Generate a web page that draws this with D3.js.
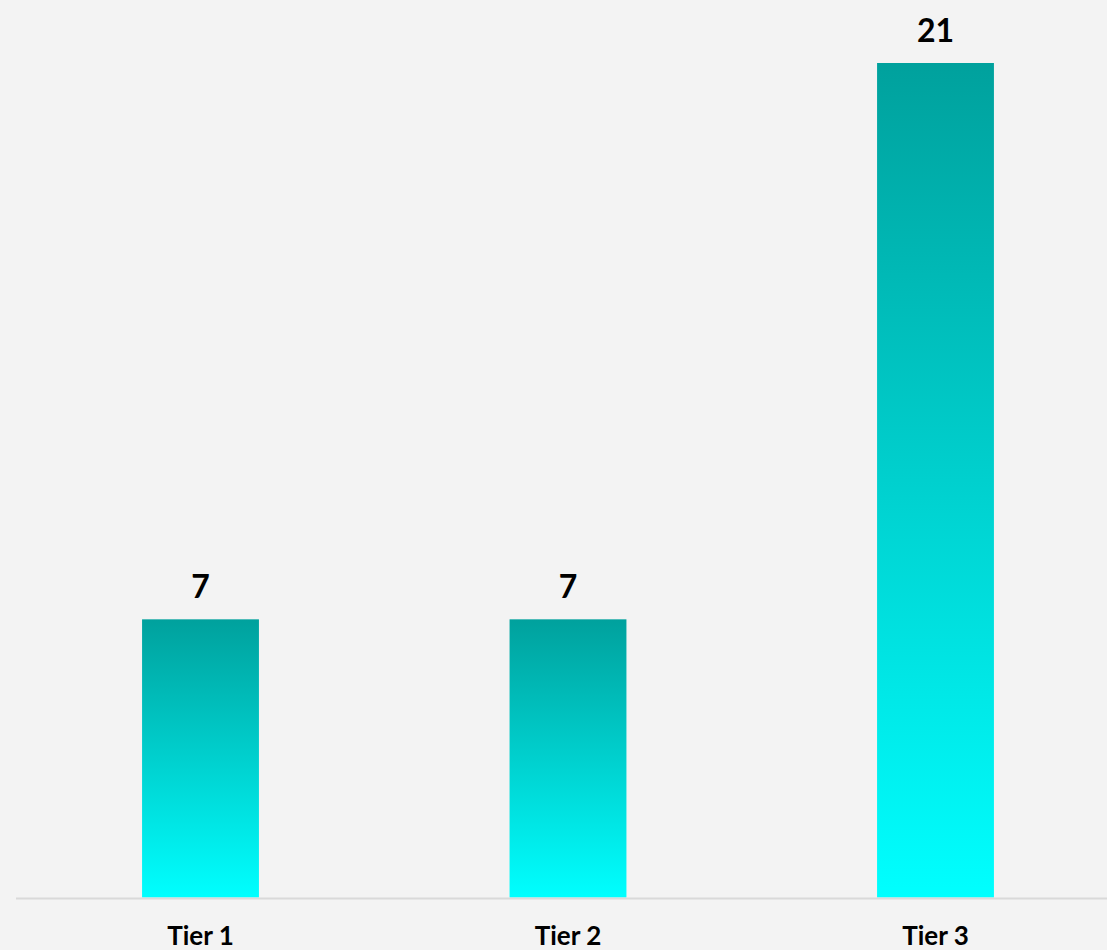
<!DOCTYPE html>
<html><head><meta charset="utf-8">
<script src="https://cdn.jsdelivr.net/npm/d3@7/dist/d3.min.js"></script>
<style>html,body{margin:0;padding:0;background:#f3f3f3;}svg{display:block;}</style>
</head><body>
<svg id="chart" width="1107" height="950"></svg>
<script>
const categories = ["Tier 1", "Tier 2", "Tier 3"];
const values = [7, 7, 21];

const W = 1107, H = 950;
const svg = d3.select("#chart");
svg.append("rect").attr("width", W).attr("height", H).attr("fill", "#f3f3f3");

const baseY = 897.5;
const x = d3.scaleBand().domain(categories).range([16.75, 1119.25]).paddingInner(0.682).paddingOuter(0.341);
const y = d3.scaleLinear().domain([0, 21]).range([baseY, 63]);

const defs = svg.append("defs");
const grad = defs.append("linearGradient").attr("id", "barGrad")
  .attr("x1", 0).attr("y1", 0).attr("x2", 0).attr("y2", 1);
grad.append("stop").attr("offset", "0%").attr("stop-color", "#00a19d");
grad.append("stop").attr("offset", "100%").attr("stop-color", "#00ffff");

svg.selectAll("rect.bar").data(values).join("rect").attr("class", "bar")
  .attr("x", (d, i) => x(categories[i]))
  .attr("y", d => y(d))
  .attr("width", x.bandwidth())
  .attr("height", d => baseY - y(d))
  .attr("fill", "url(#barGrad)");

svg.append("line").attr("x1", 16).attr("x2", W).attr("y1", 898.5).attr("y2", 898.5)
  .attr("stroke", "#d9d9d9").attr("stroke-width", 2);

svg.selectAll("text.val").data(values).join("text").attr("class", "val")
  .attr("x", (d, i) => x(categories[i]) + x.bandwidth() / 2)
  .attr("y", d => y(d) - 21)
  .attr("text-anchor", "middle")
  .attr("font-family", "Lato, 'Open Sans', sans-serif")
  .attr("font-weight", "bold").attr("font-size", 32).attr("fill", "#000")
  .text(d => d);

svg.selectAll("text.cat").data(categories).join("text").attr("class", "cat")
  .attr("x", d => x(d) + x.bandwidth() / 2)
  .attr("y", 945)
  .attr("text-anchor", "middle")
  .attr("font-family", "Lato, 'Open Sans', sans-serif")
  .attr("font-weight", "bold").attr("font-size", 26).attr("fill", "#000")
  .text(d => d);
</script>
</body></html>
